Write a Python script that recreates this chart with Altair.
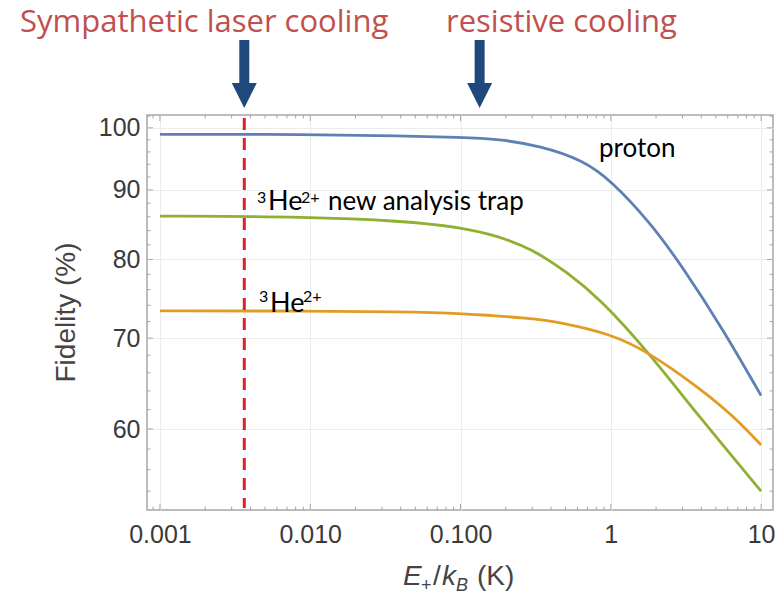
import altair as alt
import pandas as pd

# plot-area size in pixels
W, H = 626, 395

# Fidelity (%) versus E+/kB (K) for each ion / trap
proton_e = [0.001, 0.01, 0.04, 0.1, 0.18, 0.34, 0.65, 1.0, 1.84, 3.0, 5.6, 10.0]
proton_f = [98.9, 98.9, 98.65, 98.4, 98.1, 97.0, 94.7, 91.5, 85.1, 79.0, 71.0, 63.5]

trap_e = [0.001, 0.01, 0.04, 0.1, 0.18, 0.3, 0.51, 0.85, 1.77, 3.9, 10.0]
trap_f = [86.1, 86.0, 85.4, 84.5, 83.2, 81.4, 78.3, 74.8, 68.4, 61.2, 54.0]

he3_e = [0.001, 0.01, 0.04, 0.1, 0.3, 0.46, 1.0, 1.77, 3.9, 6.6, 10.0]
he3_f = [73.3, 73.3, 73.2, 73.0, 72.4, 71.9, 70.5, 68.4, 64.3, 61.3, 58.4]

series_names = ["proton", "3He2+ new analysis trap", "3He2+"]
series_colors = ["#5E81B5", "#8FB032", "#E19C24"]

# cooling temperatures marked above the frame
laser_cooling_T = [0.00364]
resistive_cooling_T = [0.134]

# axis ticks
x_major = [0.001, 0.01, 0.1, 1, 10]
x_major_labels = ["0.001", "0.010", "0.100", "1", "10"]
x_minor = [0.0009] + [m * d for d in (0.001, 0.01, 0.1, 1) for m in range(2, 10)]
y_major = [60, 70, 80, 90, 100]
y_minor = [54, 56, 58, 62, 64, 66, 68, 72, 74, 76, 78, 82, 84, 86, 88, 92, 94, 96, 98, 102]

rows = []
for name, es, fs in [(series_names[0], proton_e, proton_f),
                     (series_names[1], trap_e, trap_f),
                     (series_names[2], he3_e, he3_f)]:
    rows += [{"series": name, "E": e, "F": f} for e, f in zip(es, fs)]
curves = pd.DataFrame(rows)

xscale = alt.Scale(type="log", domain=[0.00082, 12.0], nice=False)
yscale = alt.Scale(type="log", domain=[52.3, 102.2], nice=False)

FRAME = "#a6a6a6"
TICKFONT = "Liberation Sans"

label_expr = " : ".join(
    f"datum.value < {v * 3} ? '{t}'" for v, t in zip(x_major[:-1], x_major_labels[:-1])
) + f" : '{x_major_labels[-1]}'"

xaxis = alt.Axis(values=x_major, labelExpr=label_expr, grid=True, gridColor="#ececec",
                 ticks=False, tickSize=0, domain=False, labelFont=TICKFONT,
                 labelFontSize=25, labelColor="#3a3a3a", labelPadding=12,
                 labelFlush=False, labelOverlap=False, labelBound=False, title=None)
yaxis = alt.Axis(values=y_major, grid=True, gridColor="#ececec", ticks=False, tickSize=0,
                 domain=False, labelFont=TICKFONT, labelFontSize=25,
                 labelColor="#3a3a3a", labelPadding=7, labelFlush=False,
                 labelOverlap=False, labelBound=False, title=None)


def X(field):
    return alt.X(field, scale=xscale, axis=xaxis)


def Y(field):
    return alt.Y(field, scale=yscale, axis=yaxis)


lines = alt.Chart(curves).mark_line(strokeWidth=2.8, interpolate="basis").encode(
    x=X("E:Q"),
    y=Y("F:Q"),
    color=alt.Color("series:N", scale=alt.Scale(domain=series_names, range=series_colors),
                    legend=None),
    detail="series:N",
)

laser_line = alt.Chart(pd.DataFrame({"T": laser_cooling_T})).mark_rule(
    color="#D9232A", strokeWidth=3, strokeDash=[12, 8]
).encode(x=X("T:Q"), y=alt.value(3), y2=alt.value(H - 2))


# inward frame ticks on all four sides
def yticks(values, length):
    d = pd.DataFrame({"v": values})
    left = alt.Chart(d).mark_rule(color=FRAME, strokeWidth=1).encode(
        y=Y("v:Q"), x=alt.value(0), x2=alt.value(length))
    right = alt.Chart(d).mark_rule(color=FRAME, strokeWidth=1).encode(
        y=Y("v:Q"), x=alt.value(W - length), x2=alt.value(W))
    return [left, right]


def xticks(values, length):
    d = pd.DataFrame({"v": values})
    bottom = alt.Chart(d).mark_rule(color=FRAME, strokeWidth=1).encode(
        x=X("v:Q"), y=alt.value(H - length), y2=alt.value(H))
    top = alt.Chart(d).mark_rule(color=FRAME, strokeWidth=1).encode(
        x=X("v:Q"), y=alt.value(0), y2=alt.value(length))
    return [bottom, top]


tick_layers = yticks(y_major, 6) + yticks(y_minor, 3.5) + xticks(x_major, 6) + xticks(x_minor, 3.5)

# arrows above the frame
ARROW = "#1F497D"
arrow_T = pd.DataFrame({"T": laser_cooling_T + resistive_cooling_T})
shafts = alt.Chart(arrow_T).mark_rule(color=ARROW, strokeWidth=10).encode(
    x=X("T:Q"), y=alt.value(-75), y2=alt.value(-30))
heads = alt.Chart(arrow_T).mark_point(
    shape="M-1,-1L1,-1L0,1Z", size=625, filled=True, opacity=1, color=ARROW, strokeWidth=0
).encode(x=X("T:Q"), y=alt.value(-19.5))


def label(text, x, y, size, font="Lato", color="black", style="normal", align="left"):
    return alt.Chart(pd.DataFrame({"t": [text]})).mark_text(
        font=font, fontSize=size, color=color, fontStyle=style, align=align,
        baseline="alphabetic"
    ).encode(text="t:N", x=alt.value(x), y=alt.value(y))


RED = "#C0504D"
texts = [
    label("Sympathetic laser cooling", -127, -83, 31, font="Open Sans", color=RED),
    label("resistive cooling", 299, -83, 31, font="Open Sans", color=RED),
    label("proton", 452, 42, 26),
    # 3He2+ in the new analysis trap
    label("3", 110, 88, 16),
    label("He", 121, 95, 27),
    label("2+", 154, 88, 16),
    label("new analysis trap", 181, 95, 26),
    # 3He2+
    label("3", 112, 187, 16),
    label("He", 123, 197, 27),
    label("2+", 156, 187, 16),
]

# axis titles
AX = "#444444"
texts.append(
    alt.Chart(pd.DataFrame({"t": ["Fidelity (%)"]})).mark_text(
        font=TICKFONT, fontSize=28, color=AX, angle=270, align="center", baseline="middle"
    ).encode(text="t:N", x=alt.value(-80), y=alt.value(H / 2))
)
x0, yb = 256, 470
texts += [
    label("E", x0, yb, 28, font=TICKFONT, color=AX, style="italic"),
    label("+", x0 + 18, yb + 6, 18, font=TICKFONT, color=AX),
    label("/", x0 + 30, yb, 28, font=TICKFONT, color=AX),
    label("k", x0 + 39, yb, 28, font=TICKFONT, color=AX, style="italic"),
    label("B", x0 + 53, yb + 6, 18, font=TICKFONT, color=AX, style="italic"),
    label("(K)", x0 + 74, yb, 28, font=TICKFONT, color=AX),
]

chart = alt.layer(lines, *tick_layers, laser_line, shafts, heads, *texts).properties(
    width=W, height=H,
    padding={"left": 147, "top": 115, "right": 11, "bottom": 86},
    autosize=alt.AutoSizeParams(type="none"),
    background="white",
).configure_view(stroke=FRAME, strokeWidth=1.5)

chart.save("out.html", embed_options={"renderer": "svg", "actions": False})
